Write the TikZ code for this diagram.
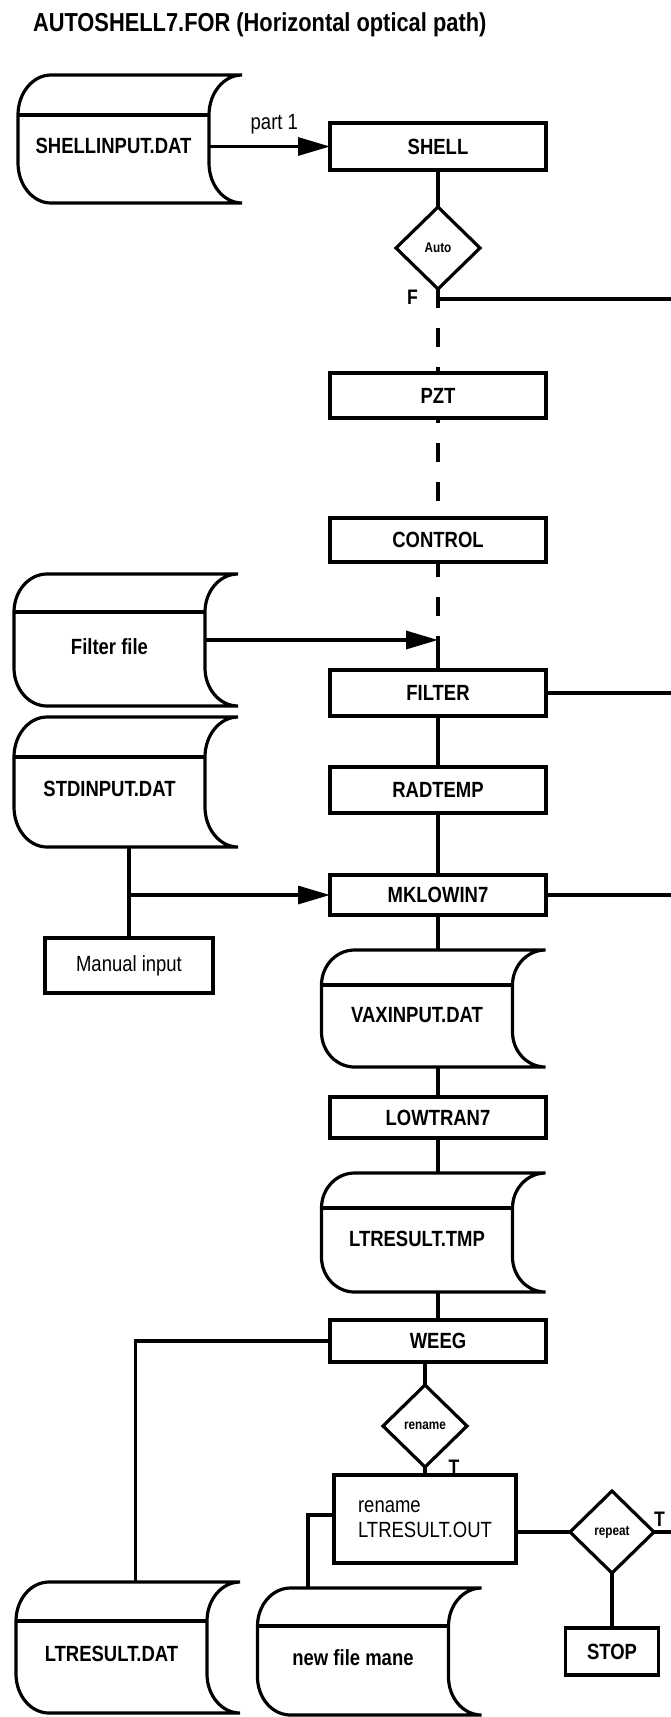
\documentclass[tikz,border=0pt]{standalone}
\usepackage{fontspec}
\newfontfamily\narrowsf{Liberation Sans}[FakeStretch=0.84]
\newcommand\labfont{\narrowsf\bfseries\fontsize{22}{26}\selectfont}
\usepackage{tikz}
\usetikzlibrary{positioning,arrows.meta,shapes.geometric}

\begin{document}
\begin{tikzpicture}[x=1pt, y=1pt, line width=3.2pt, every node/.style={outer sep=0pt}, box/.style={draw, minimum width=216pt, minimum height=45pt, inner sep=0pt, font=\labfont}, choice/.style={draw, diamond, minimum width=84pt, minimum height=82pt, inner sep=0pt, font=\narrowsf\bfseries\fontsize{14}{16}\selectfont}, datafile/.style={minimum width=191pt, inner sep=0pt, text height=28pt, text depth=0pt, font=\labfont}, plain/.style={inner sep=0pt, font=\narrowsf\fontsize{22}{25}\selectfont}, flag/.style={inner sep=0pt, font=\narrowsf\bfseries\fontsize{21}{23}\selectfont}, arrow/.style={-{Triangle[length=32pt,width=18pt]}}, broken/.style={dash pattern=on 19pt off 20pt}]
\useasboundingbox (0,0) rectangle (671,-1717);
\node[anchor=base west, inner sep=0pt, font=\narrowsf\bfseries\fontsize{26}{30}\selectfont] (title) at (33,-31) {AUTOSHELL7.FOR (Horizontal optical path)};
\node[box, minimum height=47pt] (shell) at (438,-146.5) {SHELL};
\node[choice, below=37pt of shell] (auto) {Auto};
\coordinate[below=10pt of auto] (fj);
\node[box, below=84pt of auto] (pzt) {PZT};
\node[box, minimum height=44pt, below=100pt of pzt] (control) {CONTROL};
\node[box, minimum height=46pt, below=108pt of control] (filter) {FILTER};
\node[box, minimum height=46pt, below=51pt of filter] (radtemp) {RADTEMP};
\node[box, minimum height=40pt, below=62pt of radtemp] (mklowin) {MKLOWIN7};
\node[datafile, minimum height=117pt, below=35pt of mklowin, xshift=-21pt] (vax) {VAXINPUT.DAT};
\node[box, minimum height=41pt, below=30pt of vax, xshift=21pt] (lowtran) {LOWTRAN7};
\node[datafile, minimum height=119pt, below=35pt of lowtran, xshift=-21pt] (ltmp) {LTRESULT.TMP};
\node[box, minimum height=42pt, below=28pt of ltmp, xshift=21pt] (weeg) {WEEG};
\node[choice, below=23pt of weeg, xshift=-13pt] (rendec) {rename};
\node[box, plain, align=left, minimum width=182pt, minimum height=88pt, below=8pt of rendec] (renbox) {rename\\LTRESULT.OUT};
\node[choice, right=54pt of renbox, yshift=-13pt] (repdec) {repeat};
\node[box, minimum width=93pt, minimum height=47pt, below=55pt of repdec] (stop) {STOP};
\node[datafile, minimum height=128pt] (shellin) at (113.5,-139) {SHELLINPUT.DAT};
\node[datafile, minimum height=132pt] (filterf) at (109.5,-640) {Filter file};
\node[datafile, minimum height=130pt, below=11pt of filterf] (stdin) {STDINPUT.DAT};
\node[box, plain, minimum width=168pt, minimum height=55pt, below=91pt of stdin, xshift=19.5pt] (manual) {Manual input};
\node[datafile, minimum height=131pt] (ltdat) at (111.5,-1647.5) {LTRESULT.DAT};
\node[datafile, minimum height=127pt] (newfile) at (353,-1651.5) {new file mane};
\node[flag, anchor=base east] (flab) at ([xshift=-20pt,yshift=-5pt]fj) {F};
\node[flag, anchor=south] (tren) at ([xshift=29pt,yshift=1pt]renbox.north) {T};
\node[flag, anchor=south west] (trep) at ([yshift=6pt]repdec.east) {T};
\foreach \fn/\ry in {shellin/40, filterf/38, stdin/40, vax/35, ltmp/35, ltdat/39, newfile/38} {
  \draw ([xshift=33pt]\fn.north east) -- ([xshift=33pt]\fn.north west) arc[start angle=90, end angle=180, x radius=33pt, y radius=\ry pt] -- ([yshift=\ry pt]\fn.south west) arc[start angle=180, end angle=270, x radius=33pt, y radius=\ry pt] -- ([xshift=33pt]\fn.south east) arc[start angle=270, end angle=180, x radius=33pt, y radius=\ry pt] -- ([yshift=-\ry pt]\fn.north east) arc[start angle=180, end angle=90, x radius=33pt, y radius=\ry pt];
  \draw ([yshift=-\ry pt]\fn.north west) -- ([yshift=-\ry pt]\fn.north east);
}
\coordinate (edge) at (671,0);
\coordinate (outauto) at (fj -| edge);
\coordinate (outfilter) at (filter.east -| edge);
\coordinate (outmk) at (mklowin.east -| edge);
\coordinate (outrep) at (repdec.east -| edge);
\coordinate (fjoin) at (control.south |- filterf.east);
\coordinate (mj) at (manual.north |- mklowin.west);
\draw[arrow] (shellin.east |- shell.west) -- node[plain, pos=0.54, above=12pt] (part) {part 1} (shell.west);
\draw (shell) -- (auto);
\draw (auto) -- (fj);
\draw (fj) -- (outauto);
\draw[broken, dash phase=10pt] (fj) -- (pzt);
\draw[broken, dash phase=14pt] (pzt) -- (control);
\draw[broken, dash phase=4pt] (control) -- (fjoin);
\draw[arrow] (filterf.east) -- (fjoin);
\draw (fjoin) -- (filter);
\draw (filter) -- (outfilter);
\draw (filter) -- (radtemp);
\draw (radtemp) -- (mklowin);
\draw (stdin.south -| manual.north) -- (manual.north);
\draw[arrow] (mj) -- (mklowin.west);
\draw (mklowin) -- (outmk);
\draw (mklowin.south) -- (mklowin.south |- vax.north);
\draw (vax.south -| lowtran.north) -- (lowtran.north);
\draw (lowtran.south) -- (lowtran.south |- ltmp.north);
\draw (ltmp.south -| weeg.north) -- (weeg.north);
\draw (weeg.west) -| ([xshift=24pt]ltdat.north);
\draw (weeg.south -| rendec.north) -- (rendec.north);
\draw (rendec) -- (renbox);
\draw ([yshift=4pt]renbox.west) -| ([xshift=-45pt]newfile.north);
\draw (renbox.east |- repdec.west) -- (repdec.west);
\draw (repdec) -- (outrep);
\draw (repdec) -- (stop);
\end{tikzpicture}
\end{document}
